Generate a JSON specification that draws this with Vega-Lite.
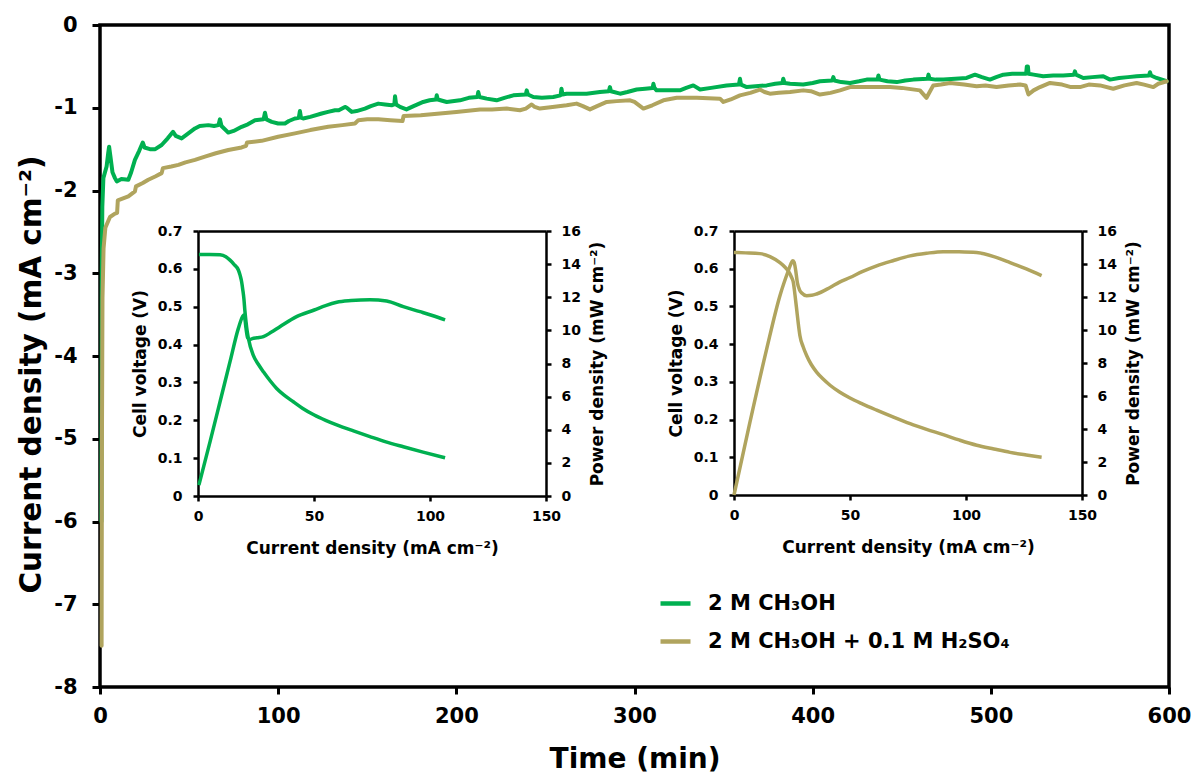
{
  "$schema": "https://vega.github.io/schema/vega-lite/v6.json",
  "width": 1069,
  "height": 662,
  "autosize": {"type": "none"},
  "padding": {"left": 100, "top": 25, "right": 27, "bottom": 89},
  "background": "white",
  "config": {
    "view": {"stroke": "black", "strokeWidth": 3.5},
    "font": "DejaVu Sans",
    "axis": {
      "labelFont": "DejaVu Sans", "labelFontWeight": "bold", "labelColor": "black",
      "titleFont": "DejaVu Sans", "titleFontWeight": "bold", "titleColor": "black",
      "grid": false, "domainColor": "black", "tickColor": "black",
      "labelOverlap": false, "labelBound": false, "labelFlush": false
    }
  },
  "datasets": {
    "main": [
      {"t":0.8,"j":-6.0,"s":"2 M CH₃OH"},{"t":1.0,"j":-3.0,"s":"2 M CH₃OH"},{"t":1.3,"j":-2.2,"s":"2 M CH₃OH"},{"t":1.9,"j":-1.85,"s":"2 M CH₃OH"},{"t":3.7,"j":-1.71,"s":"2 M CH₃OH"},{"t":4.6,"j":-1.55,"s":"2 M CH₃OH"},{"t":5.1,"j":-1.47,"s":"2 M CH₃OH"},{"t":5.8,"j":-1.58,"s":"2 M CH₃OH"},{"t":7,"j":-1.78,"s":"2 M CH₃OH"},{"t":8.4,"j":-1.85,"s":"2 M CH₃OH"},{"t":9.4,"j":-1.89,"s":"2 M CH₃OH"},{"t":12,"j":-1.86,"s":"2 M CH₃OH"},{"t":15.9,"j":-1.87,"s":"2 M CH₃OH"},{"t":17.5,"j":-1.78,"s":"2 M CH₃OH"},{"t":19.6,"j":-1.63,"s":"2 M CH₃OH"},{"t":22,"j":-1.52,"s":"2 M CH₃OH"},{"t":24,"j":-1.42,"s":"2 M CH₃OH"},{"t":25,"j":-1.48,"s":"2 M CH₃OH"},{"t":28,"j":-1.5,"s":"2 M CH₃OH"},{"t":31,"j":-1.5,"s":"2 M CH₃OH"},{"t":34.6,"j":-1.45,"s":"2 M CH₃OH"},{"t":38,"j":-1.37,"s":"2 M CH₃OH"},{"t":41,"j":-1.29,"s":"2 M CH₃OH"},{"t":42.5,"j":-1.34,"s":"2 M CH₃OH"},{"t":45.8,"j":-1.37,"s":"2 M CH₃OH"},{"t":49,"j":-1.32,"s":"2 M CH₃OH"},{"t":53.3,"j":-1.25,"s":"2 M CH₃OH"},{"t":56,"j":-1.22,"s":"2 M CH₃OH"},{"t":60.8,"j":-1.21,"s":"2 M CH₃OH"},{"t":64,"j":-1.22,"s":"2 M CH₃OH"},{"t":66.5,"j":-1.21,"s":"2 M CH₃OH"},{"t":67.3,"j":-1.14,"s":"2 M CH₃OH"},{"t":68.2,"j":-1.22,"s":"2 M CH₃OH"},{"t":72,"j":-1.3,"s":"2 M CH₃OH"},{"t":75,"j":-1.28,"s":"2 M CH₃OH"},{"t":79.5,"j":-1.23,"s":"2 M CH₃OH"},{"t":83,"j":-1.2,"s":"2 M CH₃OH"},{"t":87,"j":-1.15,"s":"2 M CH₃OH"},{"t":91.8,"j":-1.14,"s":"2 M CH₃OH"},{"t":92.6,"j":-1.06,"s":"2 M CH₃OH"},{"t":93.4,"j":-1.14,"s":"2 M CH₃OH"},{"t":96.4,"j":-1.17,"s":"2 M CH₃OH"},{"t":100,"j":-1.19,"s":"2 M CH₃OH"},{"t":103.8,"j":-1.19,"s":"2 M CH₃OH"},{"t":106,"j":-1.16,"s":"2 M CH₃OH"},{"t":109.4,"j":-1.13,"s":"2 M CH₃OH"},{"t":111.6,"j":-1.12,"s":"2 M CH₃OH"},{"t":112.2,"j":-1.04,"s":"2 M CH₃OH"},{"t":112.8,"j":-1.12,"s":"2 M CH₃OH"},{"t":114,"j":-1.13,"s":"2 M CH₃OH"},{"t":118,"j":-1.11,"s":"2 M CH₃OH"},{"t":124.4,"j":-1.07,"s":"2 M CH₃OH"},{"t":128,"j":-1.05,"s":"2 M CH₃OH"},{"t":131.9,"j":-1.03,"s":"2 M CH₃OH"},{"t":134,"j":-1.03,"s":"2 M CH₃OH"},{"t":137.5,"j":-0.99,"s":"2 M CH₃OH"},{"t":138.5,"j":-1.0,"s":"2 M CH₃OH"},{"t":141.3,"j":-1.05,"s":"2 M CH₃OH"},{"t":144,"j":-1.04,"s":"2 M CH₃OH"},{"t":148.7,"j":-1.01,"s":"2 M CH₃OH"},{"t":152,"j":-0.98,"s":"2 M CH₃OH"},{"t":156.2,"j":-0.95,"s":"2 M CH₃OH"},{"t":160,"j":-0.96,"s":"2 M CH₃OH"},{"t":163.7,"j":-0.97,"s":"2 M CH₃OH"},{"t":165.2,"j":-0.96,"s":"2 M CH₃OH"},{"t":165.6,"j":-0.86,"s":"2 M CH₃OH"},{"t":166.2,"j":-0.96,"s":"2 M CH₃OH"},{"t":168.4,"j":-0.99,"s":"2 M CH₃OH"},{"t":172,"j":-1.02,"s":"2 M CH₃OH"},{"t":176,"j":-0.98,"s":"2 M CH₃OH"},{"t":181.4,"j":-0.93,"s":"2 M CH₃OH"},{"t":185,"j":-0.91,"s":"2 M CH₃OH"},{"t":188.6,"j":-0.9,"s":"2 M CH₃OH"},{"t":189,"j":-0.85,"s":"2 M CH₃OH"},{"t":189.6,"j":-0.9,"s":"2 M CH₃OH"},{"t":194.6,"j":-0.93,"s":"2 M CH₃OH"},{"t":202,"j":-0.91,"s":"2 M CH₃OH"},{"t":207,"j":-0.88,"s":"2 M CH₃OH"},{"t":211.8,"j":-0.87,"s":"2 M CH₃OH"},{"t":212.3,"j":-0.81,"s":"2 M CH₃OH"},{"t":213,"j":-0.87,"s":"2 M CH₃OH"},{"t":217,"j":-0.89,"s":"2 M CH₃OH"},{"t":222.6,"j":-0.91,"s":"2 M CH₃OH"},{"t":227,"j":-0.88,"s":"2 M CH₃OH"},{"t":232,"j":-0.85,"s":"2 M CH₃OH"},{"t":239,"j":-0.84,"s":"2 M CH₃OH"},{"t":239.5,"j":-0.79,"s":"2 M CH₃OH"},{"t":240.2,"j":-0.84,"s":"2 M CH₃OH"},{"t":243.2,"j":-0.87,"s":"2 M CH₃OH"},{"t":248,"j":-0.88,"s":"2 M CH₃OH"},{"t":254.4,"j":-0.87,"s":"2 M CH₃OH"},{"t":258.5,"j":-0.85,"s":"2 M CH₃OH"},{"t":259,"j":-0.77,"s":"2 M CH₃OH"},{"t":259.6,"j":-0.84,"s":"2 M CH₃OH"},{"t":261.9,"j":-0.83,"s":"2 M CH₃OH"},{"t":267,"j":-0.83,"s":"2 M CH₃OH"},{"t":273.1,"j":-0.83,"s":"2 M CH₃OH"},{"t":280.6,"j":-0.81,"s":"2 M CH₃OH"},{"t":285.6,"j":-0.8,"s":"2 M CH₃OH"},{"t":286.2,"j":-0.75,"s":"2 M CH₃OH"},{"t":286.8,"j":-0.8,"s":"2 M CH₃OH"},{"t":291.9,"j":-0.83,"s":"2 M CH₃OH"},{"t":296,"j":-0.81,"s":"2 M CH₃OH"},{"t":301.2,"j":-0.78,"s":"2 M CH₃OH"},{"t":306,"j":-0.77,"s":"2 M CH₃OH"},{"t":310.2,"j":-0.76,"s":"2 M CH₃OH"},{"t":310.6,"j":-0.71,"s":"2 M CH₃OH"},{"t":311.2,"j":-0.76,"s":"2 M CH₃OH"},{"t":312.4,"j":-0.79,"s":"2 M CH₃OH"},{"t":318,"j":-0.79,"s":"2 M CH₃OH"},{"t":325.5,"j":-0.79,"s":"2 M CH₃OH"},{"t":329,"j":-0.76,"s":"2 M CH₃OH"},{"t":333,"j":-0.73,"s":"2 M CH₃OH"},{"t":336.8,"j":-0.78,"s":"2 M CH₃OH"},{"t":343,"j":-0.76,"s":"2 M CH₃OH"},{"t":351.7,"j":-0.73,"s":"2 M CH₃OH"},{"t":358.6,"j":-0.72,"s":"2 M CH₃OH"},{"t":359.2,"j":-0.65,"s":"2 M CH₃OH"},{"t":359.8,"j":-0.72,"s":"2 M CH₃OH"},{"t":363,"j":-0.75,"s":"2 M CH₃OH"},{"t":368,"j":-0.74,"s":"2 M CH₃OH"},{"t":374.2,"j":-0.73,"s":"2 M CH₃OH"},{"t":379,"j":-0.71,"s":"2 M CH₃OH"},{"t":383,"j":-0.7,"s":"2 M CH₃OH"},{"t":383.5,"j":-0.65,"s":"2 M CH₃OH"},{"t":384.2,"j":-0.7,"s":"2 M CH₃OH"},{"t":387.3,"j":-0.71,"s":"2 M CH₃OH"},{"t":394.7,"j":-0.72,"s":"2 M CH₃OH"},{"t":400,"j":-0.7,"s":"2 M CH₃OH"},{"t":404.1,"j":-0.68,"s":"2 M CH₃OH"},{"t":411,"j":-0.67,"s":"2 M CH₃OH"},{"t":411.6,"j":-0.63,"s":"2 M CH₃OH"},{"t":412.2,"j":-0.67,"s":"2 M CH₃OH"},{"t":416,"j":-0.69,"s":"2 M CH₃OH"},{"t":421,"j":-0.7,"s":"2 M CH₃OH"},{"t":426,"j":-0.68,"s":"2 M CH₃OH"},{"t":430.3,"j":-0.66,"s":"2 M CH₃OH"},{"t":436.4,"j":-0.66,"s":"2 M CH₃OH"},{"t":436.9,"j":-0.61,"s":"2 M CH₃OH"},{"t":437.5,"j":-0.66,"s":"2 M CH₃OH"},{"t":442,"j":-0.68,"s":"2 M CH₃OH"},{"t":447.2,"j":-0.69,"s":"2 M CH₃OH"},{"t":452,"j":-0.67,"s":"2 M CH₃OH"},{"t":456.5,"j":-0.66,"s":"2 M CH₃OH"},{"t":464.5,"j":-0.65,"s":"2 M CH₃OH"},{"t":465,"j":-0.6,"s":"2 M CH₃OH"},{"t":465.6,"j":-0.65,"s":"2 M CH₃OH"},{"t":469,"j":-0.66,"s":"2 M CH₃OH"},{"t":473.4,"j":-0.66,"s":"2 M CH₃OH"},{"t":480,"j":-0.65,"s":"2 M CH₃OH"},{"t":486.4,"j":-0.64,"s":"2 M CH₃OH"},{"t":491.1,"j":-0.6,"s":"2 M CH₃OH"},{"t":495,"j":-0.63,"s":"2 M CH₃OH"},{"t":499.5,"j":-0.66,"s":"2 M CH₃OH"},{"t":503,"j":-0.63,"s":"2 M CH₃OH"},{"t":507,"j":-0.6,"s":"2 M CH₃OH"},{"t":512,"j":-0.59,"s":"2 M CH₃OH"},{"t":516.4,"j":-0.59,"s":"2 M CH₃OH"},{"t":519.8,"j":-0.59,"s":"2 M CH₃OH"},{"t":520.2,"j":-0.5,"s":"2 M CH₃OH"},{"t":520.8,"j":-0.5,"s":"2 M CH₃OH"},{"t":521.2,"j":-0.59,"s":"2 M CH₃OH"},{"t":524,"j":-0.6,"s":"2 M CH₃OH"},{"t":529.4,"j":-0.62,"s":"2 M CH₃OH"},{"t":535,"j":-0.61,"s":"2 M CH₃OH"},{"t":540.6,"j":-0.61,"s":"2 M CH₃OH"},{"t":546.6,"j":-0.6,"s":"2 M CH₃OH"},{"t":547.2,"j":-0.56,"s":"2 M CH₃OH"},{"t":547.8,"j":-0.6,"s":"2 M CH₃OH"},{"t":551.9,"j":-0.64,"s":"2 M CH₃OH"},{"t":557,"j":-0.63,"s":"2 M CH₃OH"},{"t":563.1,"j":-0.62,"s":"2 M CH₃OH"},{"t":566.9,"j":-0.66,"s":"2 M CH₃OH"},{"t":572,"j":-0.64,"s":"2 M CH₃OH"},{"t":577,"j":-0.63,"s":"2 M CH₃OH"},{"t":581.8,"j":-0.62,"s":"2 M CH₃OH"},{"t":588.8,"j":-0.61,"s":"2 M CH₃OH"},{"t":589.3,"j":-0.57,"s":"2 M CH₃OH"},{"t":589.9,"j":-0.61,"s":"2 M CH₃OH"},{"t":593,"j":-0.64,"s":"2 M CH₃OH"},{"t":598.7,"j":-0.68,"s":"2 M CH₃OH"},
      {"t":0.9,"j":-7.5,"s":"2 M CH₃OH + 0.1 M H₂SO₄"},{"t":1.1,"j":-5.0,"s":"2 M CH₃OH + 0.1 M H₂SO₄"},{"t":1.4,"j":-3.3,"s":"2 M CH₃OH + 0.1 M H₂SO₄"},{"t":2.0,"j":-2.7,"s":"2 M CH₃OH + 0.1 M H₂SO₄"},{"t":3,"j":-2.45,"s":"2 M CH₃OH + 0.1 M H₂SO₄"},{"t":5.6,"j":-2.32,"s":"2 M CH₃OH + 0.1 M H₂SO₄"},{"t":8.4,"j":-2.28,"s":"2 M CH₃OH + 0.1 M H₂SO₄"},{"t":9.6,"j":-2.27,"s":"2 M CH₃OH + 0.1 M H₂SO₄"},{"t":10,"j":-2.12,"s":"2 M CH₃OH + 0.1 M H₂SO₄"},{"t":15.9,"j":-2.07,"s":"2 M CH₃OH + 0.1 M H₂SO₄"},{"t":19.6,"j":-2.01,"s":"2 M CH₃OH + 0.1 M H₂SO₄"},{"t":20.2,"j":-1.95,"s":"2 M CH₃OH + 0.1 M H₂SO₄"},{"t":24,"j":-1.91,"s":"2 M CH₃OH + 0.1 M H₂SO₄"},{"t":27.1,"j":-1.87,"s":"2 M CH₃OH + 0.1 M H₂SO₄"},{"t":31,"j":-1.83,"s":"2 M CH₃OH + 0.1 M H₂SO₄"},{"t":34.6,"j":-1.79,"s":"2 M CH₃OH + 0.1 M H₂SO₄"},{"t":35.3,"j":-1.73,"s":"2 M CH₃OH + 0.1 M H₂SO₄"},{"t":40,"j":-1.71,"s":"2 M CH₃OH + 0.1 M H₂SO₄"},{"t":44,"j":-1.69,"s":"2 M CH₃OH + 0.1 M H₂SO₄"},{"t":48,"j":-1.66,"s":"2 M CH₃OH + 0.1 M H₂SO₄"},{"t":53.3,"j":-1.63,"s":"2 M CH₃OH + 0.1 M H₂SO₄"},{"t":58.9,"j":-1.59,"s":"2 M CH₃OH + 0.1 M H₂SO₄"},{"t":65,"j":-1.55,"s":"2 M CH₃OH + 0.1 M H₂SO₄"},{"t":72,"j":-1.51,"s":"2 M CH₃OH + 0.1 M H₂SO₄"},{"t":79.5,"j":-1.48,"s":"2 M CH₃OH + 0.1 M H₂SO₄"},{"t":82,"j":-1.46,"s":"2 M CH₃OH + 0.1 M H₂SO₄"},{"t":82.5,"j":-1.42,"s":"2 M CH₃OH + 0.1 M H₂SO₄"},{"t":90.7,"j":-1.4,"s":"2 M CH₃OH + 0.1 M H₂SO₄"},{"t":100,"j":-1.35,"s":"2 M CH₃OH + 0.1 M H₂SO₄"},{"t":109.4,"j":-1.31,"s":"2 M CH₃OH + 0.1 M H₂SO₄"},{"t":118,"j":-1.27,"s":"2 M CH₃OH + 0.1 M H₂SO₄"},{"t":128.1,"j":-1.23,"s":"2 M CH₃OH + 0.1 M H₂SO₄"},{"t":136,"j":-1.21,"s":"2 M CH₃OH + 0.1 M H₂SO₄"},{"t":143.1,"j":-1.19,"s":"2 M CH₃OH + 0.1 M H₂SO₄"},{"t":145,"j":-1.15,"s":"2 M CH₃OH + 0.1 M H₂SO₄"},{"t":150,"j":-1.14,"s":"2 M CH₃OH + 0.1 M H₂SO₄"},{"t":156.2,"j":-1.14,"s":"2 M CH₃OH + 0.1 M H₂SO₄"},{"t":163,"j":-1.15,"s":"2 M CH₃OH + 0.1 M H₂SO₄"},{"t":169.8,"j":-1.16,"s":"2 M CH₃OH + 0.1 M H₂SO₄"},{"t":170.4,"j":-1.1,"s":"2 M CH₃OH + 0.1 M H₂SO₄"},{"t":180,"j":-1.09,"s":"2 M CH₃OH + 0.1 M H₂SO₄"},{"t":190.8,"j":-1.07,"s":"2 M CH₃OH + 0.1 M H₂SO₄"},{"t":200,"j":-1.05,"s":"2 M CH₃OH + 0.1 M H₂SO₄"},{"t":213.3,"j":-1.02,"s":"2 M CH₃OH + 0.1 M H₂SO₄"},{"t":220,"j":-1.02,"s":"2 M CH₃OH + 0.1 M H₂SO₄"},{"t":228.3,"j":-1.01,"s":"2 M CH₃OH + 0.1 M H₂SO₄"},{"t":235.7,"j":-1.03,"s":"2 M CH₃OH + 0.1 M H₂SO₄"},{"t":239,"j":-1.01,"s":"2 M CH₃OH + 0.1 M H₂SO₄"},{"t":242.3,"j":-0.96,"s":"2 M CH₃OH + 0.1 M H₂SO₄"},{"t":244,"j":-0.99,"s":"2 M CH₃OH + 0.1 M H₂SO₄"},{"t":246.9,"j":-1.01,"s":"2 M CH₃OH + 0.1 M H₂SO₄"},{"t":254,"j":-0.99,"s":"2 M CH₃OH + 0.1 M H₂SO₄"},{"t":261.9,"j":-0.97,"s":"2 M CH₃OH + 0.1 M H₂SO₄"},{"t":267.5,"j":-0.95,"s":"2 M CH₃OH + 0.1 M H₂SO₄"},{"t":271,"j":-0.98,"s":"2 M CH₃OH + 0.1 M H₂SO₄"},{"t":275,"j":-1.02,"s":"2 M CH₃OH + 0.1 M H₂SO₄"},{"t":279,"j":-0.98,"s":"2 M CH₃OH + 0.1 M H₂SO₄"},{"t":284.4,"j":-0.93,"s":"2 M CH₃OH + 0.1 M H₂SO₄"},{"t":290,"j":-0.92,"s":"2 M CH₃OH + 0.1 M H₂SO₄"},{"t":297.5,"j":-0.91,"s":"2 M CH₃OH + 0.1 M H₂SO₄"},{"t":300,"j":-0.93,"s":"2 M CH₃OH + 0.1 M H₂SO₄"},{"t":305,"j":-1.01,"s":"2 M CH₃OH + 0.1 M H₂SO₄"},{"t":310,"j":-0.97,"s":"2 M CH₃OH + 0.1 M H₂SO₄"},{"t":316.2,"j":-0.91,"s":"2 M CH₃OH + 0.1 M H₂SO₄"},{"t":323.7,"j":-0.88,"s":"2 M CH₃OH + 0.1 M H₂SO₄"},{"t":335,"j":-0.88,"s":"2 M CH₃OH + 0.1 M H₂SO₄"},{"t":348,"j":-0.89,"s":"2 M CH₃OH + 0.1 M H₂SO₄"},{"t":349.9,"j":-0.93,"s":"2 M CH₃OH + 0.1 M H₂SO₄"},{"t":354,"j":-0.9,"s":"2 M CH₃OH + 0.1 M H₂SO₄"},{"t":359.2,"j":-0.85,"s":"2 M CH₃OH + 0.1 M H₂SO₄"},{"t":365,"j":-0.82,"s":"2 M CH₃OH + 0.1 M H₂SO₄"},{"t":370.4,"j":-0.78,"s":"2 M CH₃OH + 0.1 M H₂SO₄"},{"t":373,"j":-0.81,"s":"2 M CH₃OH + 0.1 M H₂SO₄"},{"t":376,"j":-0.83,"s":"2 M CH₃OH + 0.1 M H₂SO₄"},{"t":381,"j":-0.82,"s":"2 M CH₃OH + 0.1 M H₂SO₄"},{"t":387.3,"j":-0.81,"s":"2 M CH₃OH + 0.1 M H₂SO₄"},{"t":394.7,"j":-0.79,"s":"2 M CH₃OH + 0.1 M H₂SO₄"},{"t":399,"j":-0.8,"s":"2 M CH₃OH + 0.1 M H₂SO₄"},{"t":404.1,"j":-0.84,"s":"2 M CH₃OH + 0.1 M H₂SO₄"},{"t":410,"j":-0.82,"s":"2 M CH₃OH + 0.1 M H₂SO₄"},{"t":415.3,"j":-0.79,"s":"2 M CH₃OH + 0.1 M H₂SO₄"},{"t":421,"j":-0.75,"s":"2 M CH₃OH + 0.1 M H₂SO₄"},{"t":430,"j":-0.75,"s":"2 M CH₃OH + 0.1 M H₂SO₄"},{"t":443.4,"j":-0.75,"s":"2 M CH₃OH + 0.1 M H₂SO₄"},{"t":450,"j":-0.76,"s":"2 M CH₃OH + 0.1 M H₂SO₄"},{"t":460.2,"j":-0.79,"s":"2 M CH₃OH + 0.1 M H₂SO₄"},{"t":463.9,"j":-0.88,"s":"2 M CH₃OH + 0.1 M H₂SO₄"},{"t":467.7,"j":-0.73,"s":"2 M CH₃OH + 0.1 M H₂SO₄"},{"t":472,"j":-0.72,"s":"2 M CH₃OH + 0.1 M H₂SO₄"},{"t":477.1,"j":-0.7,"s":"2 M CH₃OH + 0.1 M H₂SO₄"},{"t":485,"j":-0.72,"s":"2 M CH₃OH + 0.1 M H₂SO₄"},{"t":492,"j":-0.74,"s":"2 M CH₃OH + 0.1 M H₂SO₄"},{"t":497,"j":-0.73,"s":"2 M CH₃OH + 0.1 M H₂SO₄"},{"t":503.2,"j":-0.75,"s":"2 M CH₃OH + 0.1 M H₂SO₄"},{"t":510,"j":-0.73,"s":"2 M CH₃OH + 0.1 M H₂SO₄"},{"t":516.4,"j":-0.72,"s":"2 M CH₃OH + 0.1 M H₂SO₄"},{"t":519.5,"j":-0.73,"s":"2 M CH₃OH + 0.1 M H₂SO₄"},{"t":521.1,"j":-0.84,"s":"2 M CH₃OH + 0.1 M H₂SO₄"},{"t":524,"j":-0.79,"s":"2 M CH₃OH + 0.1 M H₂SO₄"},{"t":527.6,"j":-0.75,"s":"2 M CH₃OH + 0.1 M H₂SO₄"},{"t":533.2,"j":-0.7,"s":"2 M CH₃OH + 0.1 M H₂SO₄"},{"t":540,"j":-0.72,"s":"2 M CH₃OH + 0.1 M H₂SO₄"},{"t":545,"j":-0.75,"s":"2 M CH₃OH + 0.1 M H₂SO₄"},{"t":550,"j":-0.75,"s":"2 M CH₃OH + 0.1 M H₂SO₄"},{"t":555,"j":-0.72,"s":"2 M CH₃OH + 0.1 M H₂SO₄"},{"t":561.3,"j":-0.73,"s":"2 M CH₃OH + 0.1 M H₂SO₄"},{"t":568.7,"j":-0.77,"s":"2 M CH₃OH + 0.1 M H₂SO₄"},{"t":575,"j":-0.73,"s":"2 M CH₃OH + 0.1 M H₂SO₄"},{"t":581.8,"j":-0.7,"s":"2 M CH₃OH + 0.1 M H₂SO₄"},{"t":586,"j":-0.72,"s":"2 M CH₃OH + 0.1 M H₂SO₄"},{"t":591.2,"j":-0.75,"s":"2 M CH₃OH + 0.1 M H₂SO₄"},{"t":594,"j":-0.71,"s":"2 M CH₃OH + 0.1 M H₂SO₄"},{"t":598.7,"j":-0.68,"s":"2 M CH₃OH + 0.1 M H₂SO₄"}
    ],
    "i1v": [
      {"i":0.4,"v":0.638},{"i":5,"v":0.638},{"i":9.5,"v":0.637},{"i":12,"v":0.632},{"i":13.8,"v":0.623},{"i":15.5,"v":0.612},{"i":17.4,"v":0.597},{"i":18.2,"v":0.582},{"i":18.8,"v":0.566},{"i":19.3,"v":0.545},{"i":19.8,"v":0.52},{"i":20.2,"v":0.49},{"i":20.7,"v":0.46},{"i":21.2,"v":0.435},{"i":21.7,"v":0.417},{"i":23.8,"v":0.372},{"i":26,"v":0.348},{"i":28.2,"v":0.328},{"i":31,"v":0.305},{"i":33.9,"v":0.284},{"i":37,"v":0.267},{"i":41.1,"v":0.249},{"i":45,"v":0.232},{"i":50.1,"v":0.214},{"i":55,"v":0.2},{"i":59.8,"v":0.188},{"i":67,"v":0.172},{"i":74.1,"v":0.157},{"i":81,"v":0.143},{"i":88.5,"v":0.13},{"i":97,"v":0.116},{"i":106.5,"v":0.101}
    ],
    "i1p": [
      {"i":0.4,"p":0.66},{"i":5.2,"p":3.28},{"i":9.5,"p":5.69},{"i":13.8,"p":8.11},{"i":17.4,"p":10.12},{"i":19.2,"p":10.83},{"i":19.8,"p":10.93},{"i":20.3,"p":10.6},{"i":20.7,"p":10.12},{"i":21.4,"p":9.55},{"i":22.4,"p":9.45},{"i":23.4,"p":9.5},{"i":25.5,"p":9.55},{"i":28.2,"p":9.62},{"i":31.5,"p":9.88},{"i":35.3,"p":10.22},{"i":42.5,"p":10.83},{"i":50.1,"p":11.23},{"i":55,"p":11.5},{"i":59.8,"p":11.7},{"i":66,"p":11.8},{"i":74.1,"p":11.85},{"i":81.3,"p":11.77},{"i":88.5,"p":11.43},{"i":95.7,"p":11.13},{"i":101,"p":10.9},{"i":106.5,"p":10.63}
    ],
    "i2v": [
      {"i":0,"v":0.643},{"i":5,"v":0.642},{"i":11.2,"v":0.64},{"i":15.5,"v":0.632},{"i":19.8,"v":0.616},{"i":22,"v":0.604},{"i":23.4,"v":0.594},{"i":24.6,"v":0.58},{"i":25.6,"v":0.563},{"i":26.3,"v":0.53},{"i":27,"v":0.493},{"i":27.7,"v":0.455},{"i":28.4,"v":0.423},{"i":29.8,"v":0.393},{"i":31.3,"v":0.37},{"i":33.3,"v":0.346},{"i":35.6,"v":0.326},{"i":38.3,"v":0.308},{"i":41.4,"v":0.291},{"i":45.5,"v":0.273},{"i":50,"v":0.257},{"i":55.5,"v":0.241},{"i":61.5,"v":0.225},{"i":68.5,"v":0.207},{"i":75.9,"v":0.189},{"i":83,"v":0.174},{"i":90.2,"v":0.16},{"i":97,"v":0.146},{"i":104.6,"v":0.132},{"i":112,"v":0.122},{"i":119,"v":0.113},{"i":126,"v":0.106},{"i":132.6,"v":0.1}
    ],
    "i2p": [
      {"i":0,"p":0},{"i":6.9,"p":4.43},{"i":14.1,"p":8.86},{"i":19.8,"p":12.08},{"i":23.4,"p":13.59},{"i":24.5,"p":14.0},{"i":25.3,"p":14.19},{"i":25.9,"p":14.1},{"i":26.5,"p":13.7},{"i":27.3,"p":12.88},{"i":28.2,"p":12.45},{"i":29.2,"p":12.24},{"i":31.3,"p":12.08},{"i":33.5,"p":12.1},{"i":35.6,"p":12.18},{"i":41.4,"p":12.58},{"i":45.5,"p":12.9},{"i":50,"p":13.18},{"i":55.5,"p":13.55},{"i":61.5,"p":13.89},{"i":68.5,"p":14.2},{"i":75.9,"p":14.49},{"i":83,"p":14.65},{"i":90.2,"p":14.75},{"i":97,"p":14.74},{"i":104.6,"p":14.69},{"i":112,"p":14.45},{"i":119,"p":14.09},{"i":126,"p":13.7},{"i":132.6,"p":13.29}
    ]
  },
  "layer": [
    {
      "data": {"name": "main"},
      "mark": {"type": "line", "strokeWidth": 4, "strokeJoin": "round", "strokeCap": "round"},
      "encoding": {
        "x": {"field": "t", "type": "quantitative",
          "scale": {"domain": [0, 600], "nice": false, "zero": false},
          "axis": {"orient": "bottom", "values": [0,100,200,300,400,500,600], "domain": false, "tickSize": 7, "tickWidth": 3, "labelFontSize": 21, "labelPadding": 11, "title": "Time (min)", "titleFontSize": 28, "titlePadding": 19}},
        "y": {"field": "j", "type": "quantitative",
          "scale": {"domain": [-8, 0], "nice": false, "zero": false},
          "axis": {"orient": "left", "values": [-8,-7,-6,-5,-4,-3,-2,-1,0], "domain": false, "tickSize": 8, "tickWidth": 3, "labelFontSize": 21, "labelPadding": 15, "labelExpr": "replace(datum.label, '−', '-')", "title": "Current density (mA cm⁻²)", "titleFontSize": 29.5, "titlePadding": 7, "titleY": 349}},
        "color": {"field": "s", "type": "nominal",
          "scale": {"domain": ["2 M CH₃OH", "2 M CH₃OH + 0.1 M H₂SO₄"], "range": ["#00B050", "#B0A45E"]},
          "legend": {"title": null, "orient": "none", "legendX": 558, "legendY": 561, "padding": 0, "symbolType": "stroke", "symbolStrokeWidth": 4.5, "symbolSize": 900, "labelFontSize": 21, "labelFont": "DejaVu Sans", "labelFontWeight": "bold", "labelColor": "black", "labelOffset": 15, "rowPadding": 10, "labelLimit": 600}}
      }
    },
    {
      "data": {"name": "i1v"},
      "mark": {"type": "line", "color": "#00B050", "strokeWidth": 3.5, "interpolate": "monotone"},
      "encoding": {
        "x": {"field": "i", "type": "quantitative",
          "scale": {"domain": [0, 150], "range": [98, 446], "nice": false, "zero": false},
          "axis": {"orient": "bottom", "offset": -191, "values": [0,50,100,150], "domainWidth": 2.5, "tickWidth": 2.5, "tickSize": 5, "labelFontSize": 14, "labelPadding": 8, "title": "Current density (mA cm⁻²)", "titleFontSize": 17, "titlePadding": 17}},
        "y": {"field": "v", "type": "quantitative",
          "scale": {"domain": [0, 0.7], "range": [471, 206], "nice": false, "zero": false},
          "axis": {"orient": "left", "offset": -98, "values": [0,0.1,0.2,0.3,0.4,0.5,0.6,0.7], "format": ".1~f", "domainWidth": 2.5, "tickWidth": 2.5, "tickSize": 5, "labelFontSize": 14, "labelPadding": 11, "title": "Cell voltage (V)", "titleFontSize": 17, "titlePadding": 8}}
      }
    },
    {
      "data": {"name": "i1p"},
      "mark": {"type": "line", "color": "#00B050", "strokeWidth": 3.5, "interpolate": "monotone"},
      "encoding": {
        "x": {"field": "i", "type": "quantitative",
          "scale": {"domain": [0, 150], "range": [98, 446], "nice": false, "zero": false},
          "axis": {"orient": "top", "offset": -206, "labels": false, "ticks": false, "domainWidth": 2.5, "title": null}},
        "y": {"field": "p", "type": "quantitative",
          "scale": {"domain": [0, 16], "range": [471, 206], "nice": false, "zero": false},
          "axis": {"orient": "right", "offset": -623, "values": [0,2,4,6,8,10,12,14,16], "domainWidth": 2.5, "tickWidth": 2.5, "tickSize": 5, "labelFontSize": 14, "labelPadding": 10, "title": "Power density (mW cm⁻²)", "titleAngle": 270, "titleBaseline": "top", "titleFontSize": 17, "titlePadding": 9}}
      }
    },
    {
      "data": {"name": "i2v"},
      "mark": {"type": "line", "color": "#B0A45E", "strokeWidth": 3.5, "interpolate": "monotone"},
      "encoding": {
        "x": {"field": "i", "type": "quantitative",
          "scale": {"domain": [0, 150], "range": [634, 982], "nice": false, "zero": false},
          "axis": {"orient": "bottom", "offset": -192, "values": [0,50,100,150], "domainWidth": 2.5, "tickWidth": 2.5, "tickSize": 5, "labelFontSize": 14, "labelPadding": 8, "title": "Current density (mA cm⁻²)", "titleFontSize": 17, "titlePadding": 17}},
        "y": {"field": "v", "type": "quantitative",
          "scale": {"domain": [0, 0.7], "range": [470, 206], "nice": false, "zero": false},
          "axis": {"orient": "left", "offset": -634, "values": [0,0.1,0.2,0.3,0.4,0.5,0.6,0.7], "format": ".1~f", "domainWidth": 2.5, "tickWidth": 2.5, "tickSize": 5, "labelFontSize": 14, "labelPadding": 11, "title": "Cell voltage (V)", "titleFontSize": 17, "titlePadding": 8}}
      }
    },
    {
      "data": {"name": "i2p"},
      "mark": {"type": "line", "color": "#B0A45E", "strokeWidth": 3.5, "interpolate": "monotone"},
      "encoding": {
        "x": {"field": "i", "type": "quantitative",
          "scale": {"domain": [0, 150], "range": [634, 982], "nice": false, "zero": false},
          "axis": {"orient": "top", "offset": -206, "labels": false, "ticks": false, "domainWidth": 2.5, "title": null}},
        "y": {"field": "p", "type": "quantitative",
          "scale": {"domain": [0, 16], "range": [470, 206], "nice": false, "zero": false},
          "axis": {"orient": "right", "offset": -87, "values": [0,2,4,6,8,10,12,14,16], "domainWidth": 2.5, "tickWidth": 2.5, "tickSize": 5, "labelFontSize": 14, "labelPadding": 10, "title": "Power density (mW cm⁻²)", "titleAngle": 270, "titleBaseline": "top", "titleFontSize": 17, "titlePadding": 9}}
      }
    }
  ],
  "resolve": {"scale": {"x": "independent", "y": "independent"}, "axis": {"x": "independent", "y": "independent"}}
}
